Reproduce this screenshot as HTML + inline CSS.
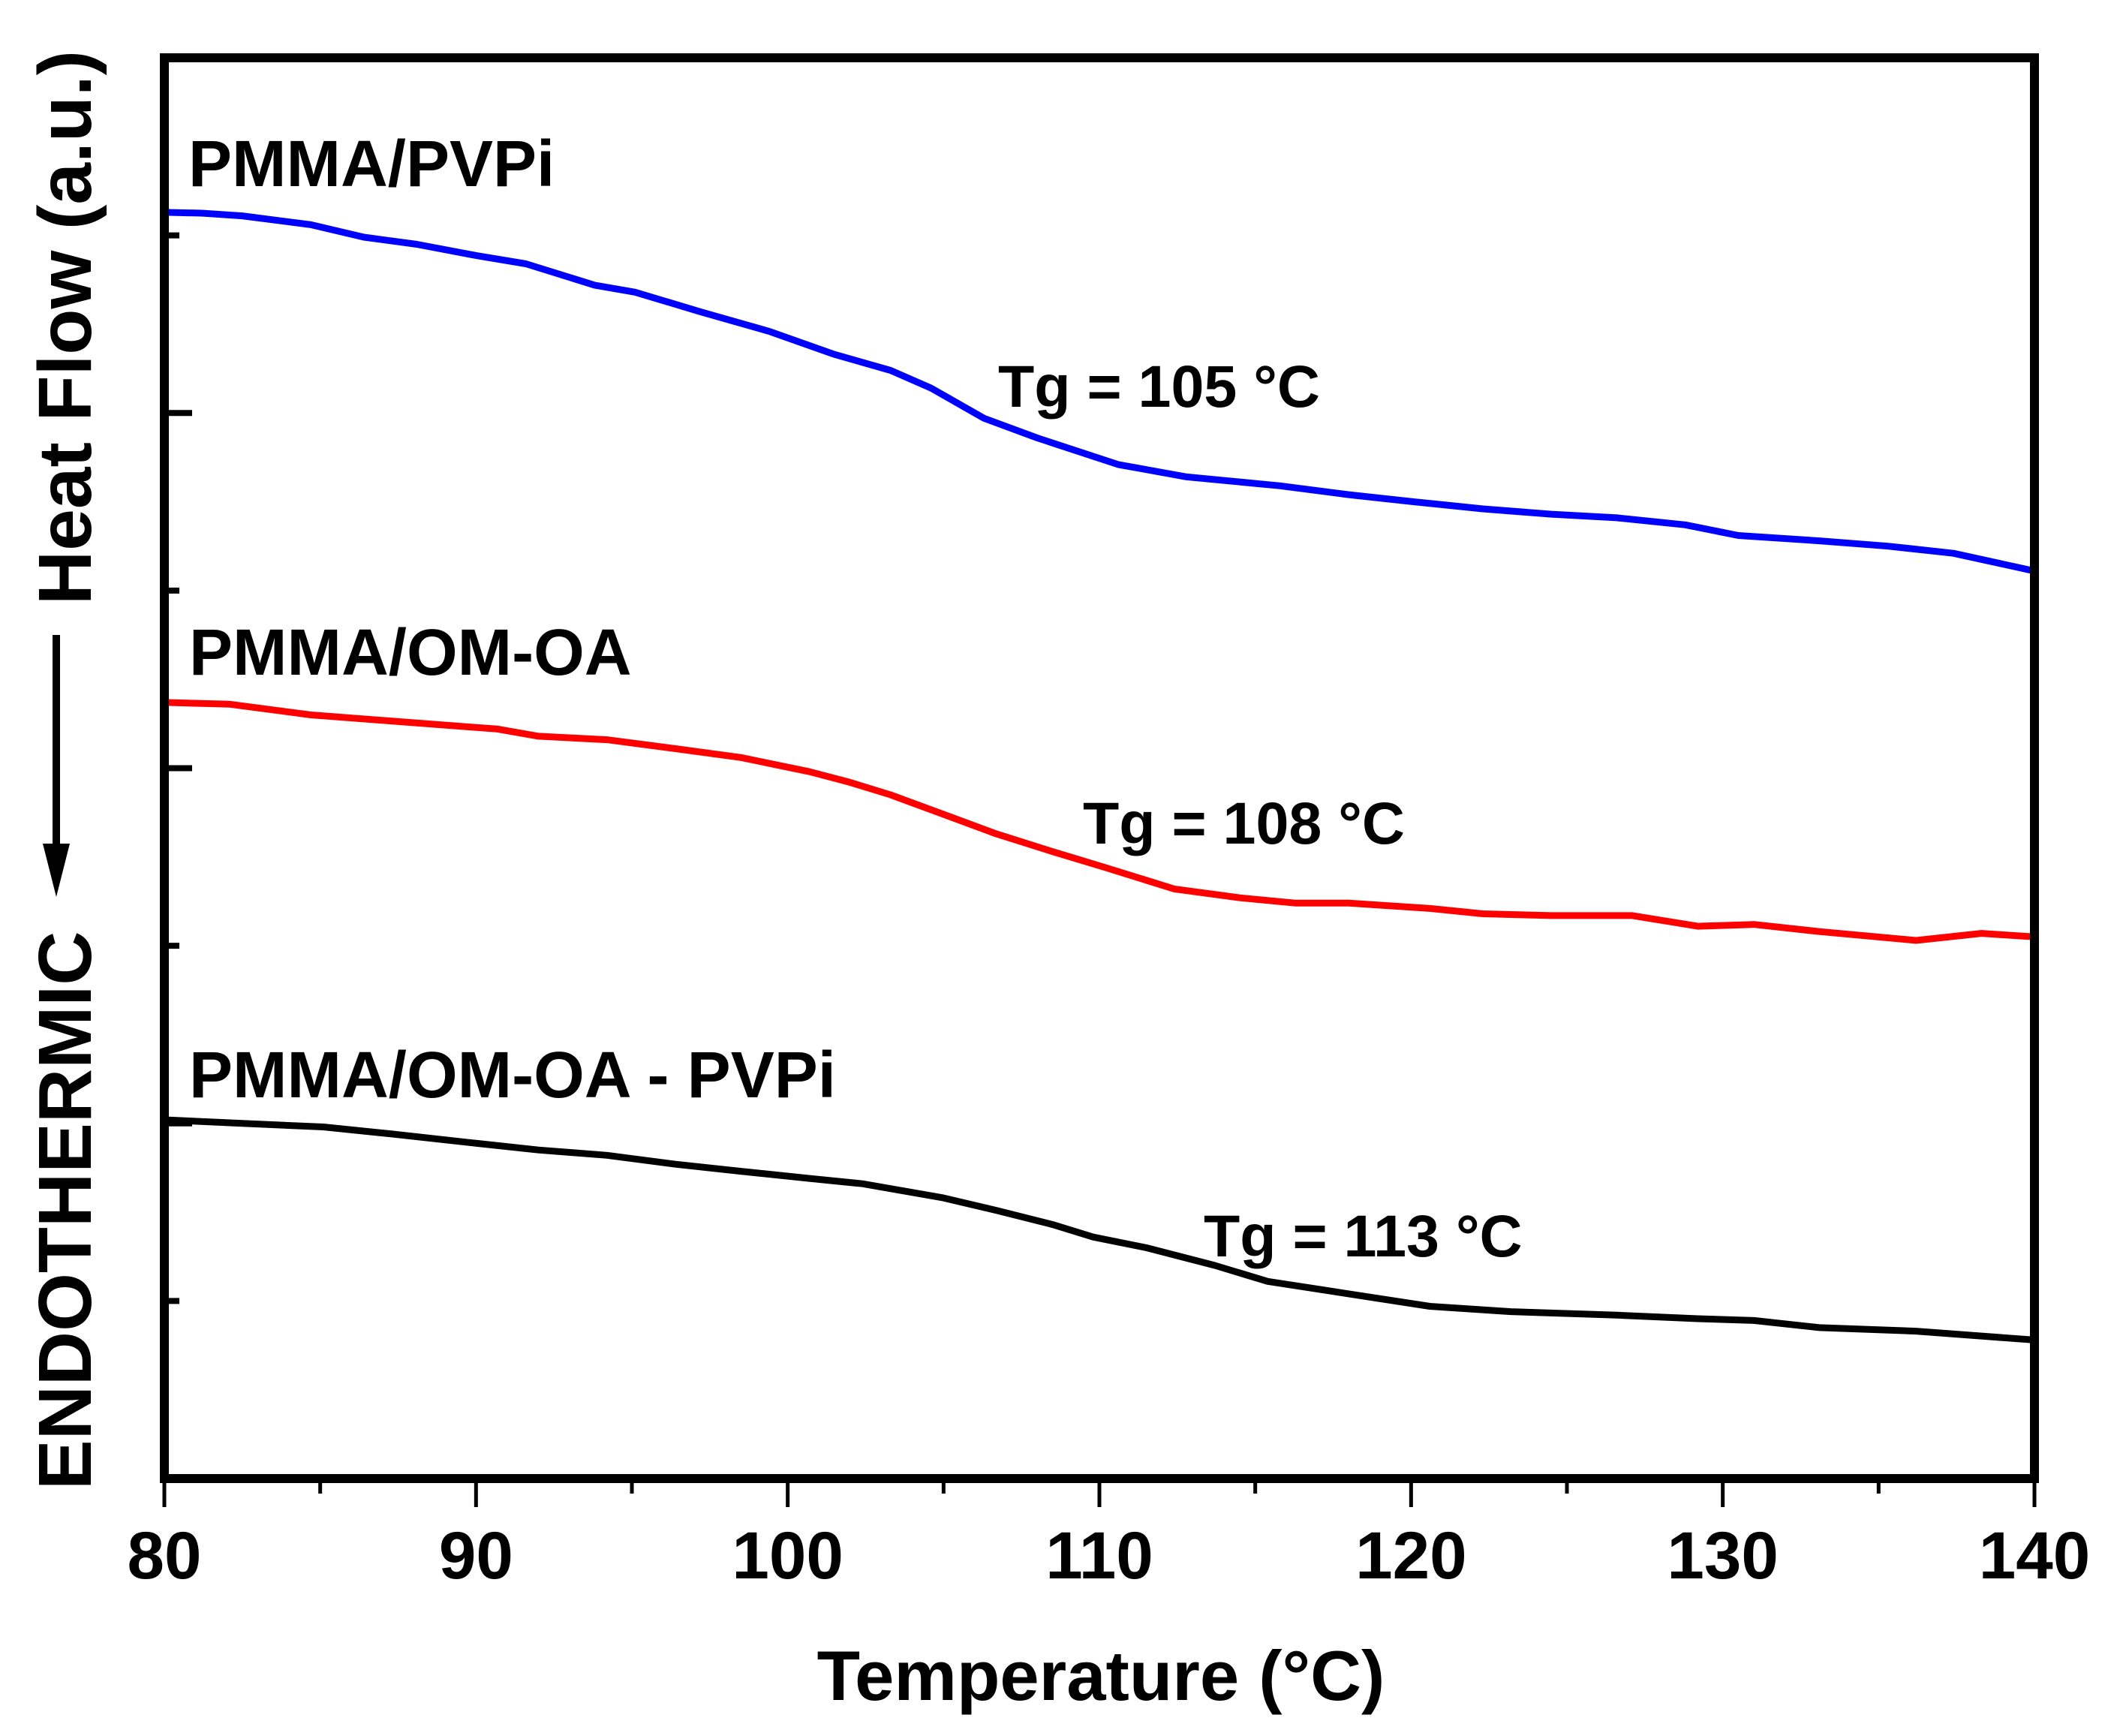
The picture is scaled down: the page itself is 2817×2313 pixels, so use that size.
<!DOCTYPE html>
<html><head><meta charset="utf-8"><style>
html,body{margin:0;padding:0;background:#fff;}
svg{display:block;font-family:"Liberation Sans",Arial,sans-serif;font-weight:bold;}
</style></head><body>
<svg id="chart" width="2817" height="2313" viewBox="0 0 2817 2313">
<g id="plot"></g>
<g id="axes"></g>
<text x="251" y="248" font-size="87">PMMA/PVPi</text>
<text x="252" y="899" font-size="87">PMMA/OM-OA</text>
<text x="252" y="1462" font-size="87">PMMA/OM-OA - PVPi</text>
<text x="1330" y="542" font-size="79">Tg = 105 °C</text>
<text x="1443" y="1124" font-size="79">Tg = 108 °C</text>
<text x="1604" y="1674" font-size="79">Tg = 113 °C</text>
<text x="1467" y="2265" font-size="94" text-anchor="middle">Temperature (°C)</text>
<text transform="translate(121,1985) rotate(-90)" font-size="100">ENDOTHERMIC</text>
<text transform="translate(121,806) rotate(-90)" font-size="100">Heat Flow (a.u.)</text>
<g>
<line x1="75" y1="846" x2="75" y2="1130" stroke="#000" stroke-width="10"/>
<polygon points="57,1124 93,1124 75,1195" fill="#000"/>
</g>
</svg>
<script>
const xTicks = [80, 90, 100, 110, 120, 130, 140];
const xMinorTicks = [85, 95, 105, 115, 125, 135];
const yMajorTicks = [2, 4, 6];
const yMinorTicks = [1, 3, 5, 7];

const blueT = [80,81.2,82.5,84.7,86.4,88.1,89.9,91.6,93.8,95.1,97.2,99.4,101.5,103.3,104.6,106.3,108.0,110.6,112.8,115.8,118.0,120.1,122.3,124.5,126.6,128.8,130.5,133.1,135.3,137.4,140];
const blueV = [7.13,7.125,7.11,7.06,6.99,6.95,6.89,6.84,6.72,6.68,6.57,6.46,6.33,6.24,6.14,5.97,5.86,5.71,5.64,5.59,5.54,5.50,5.46,5.43,5.41,5.37,5.31,5.28,5.25,5.21,5.11];
const redT = [80,82.1,84.7,87.7,90.7,92.0,94.2,96.4,98.5,100.7,102.0,103.3,105.0,106.7,108.5,110.2,112.4,114.5,116.3,118.0,120.6,122.3,124.5,127.1,129.2,131.0,133.1,136.2,138.3,140];
const redV = [4.37,4.36,4.30,4.26,4.22,4.18,4.16,4.11,4.06,3.98,3.92,3.85,3.74,3.63,3.53,3.44,3.32,3.27,3.24,3.24,3.21,3.18,3.17,3.17,3.11,3.12,3.08,3.03,3.07,3.05];
const blackT = [80,82.5,85.1,87.3,89.9,92.0,94.2,96.4,98.5,100.7,102.4,105.0,106.7,108.5,109.8,111.5,113.7,115.4,118.0,120.6,123.2,126.6,129.2,131.0,133.1,136.2,140];
const blackV = [2.02,2.00,1.98,1.94,1.89,1.85,1.82,1.77,1.73,1.69,1.66,1.58,1.51,1.43,1.36,1.30,1.20,1.11,1.04,0.97,0.94,0.92,0.90,0.89,0.85,0.83,0.78];

const X0=219, X1=2711, Y0=1970, Y1=77, XMIN=80, XMAX=140, YMIN=0, YMAX=8;
function xs(t){return X0+(t-XMIN)/(XMAX-XMIN)*(X1-X0);}
function ys(v){return Y0-(v-YMIN)/(YMAX-YMIN)*(Y0-Y1);}
const NS="http://www.w3.org/2000/svg";
const plot=document.getElementById('plot'), axes=document.getElementById('axes');
function mk(tag,attrs,parent){const e=document.createElementNS(NS,tag);for(const k in attrs)e.setAttribute(k,attrs[k]);parent.appendChild(e);return e;}

function series(T,V,color,name){
  const d=T.map((t,i)=>(i?'L':'M')+xs(t).toFixed(1)+' '+ys(V[i]).toFixed(1)).join(' ');
  const p=mk('path',{d:d,fill:'none',stroke:color,'stroke-width':9,'stroke-linejoin':'round'},plot);
  
  
}
series(blueT,blueV,'#0000ff','curve-pmma-pvpi');
series(redT,redV,'#ff0000','curve-pmma-om-oa');
series(blackT,blackV,'#000000','curve-pmma-om-oa-pvpi');

const frame=mk('rect',{x:X0,y:Y1,width:X1-X0,height:Y0-Y1,fill:'none',stroke:'#000','stroke-width':12},axes);



xTicks.forEach(t=>{
  const l=mk('line',{x1:xs(t),x2:xs(t),y1:Y0,y2:Y0+38,stroke:'#000','stroke-width':5},axes);
  
  
  const tx=mk('text',{x:xs(t),y:2103,'font-size':89,'text-anchor':'middle'},axes);
  tx.textContent=t;
  
  
});
xMinorTicks.forEach(t=>{
  const l=mk('line',{x1:xs(t),x2:xs(t),y1:Y0,y2:Y0+20,stroke:'#000','stroke-width':5},axes);
  
  
});
yMajorTicks.forEach(v=>{
  const l=mk('line',{x1:X0,x2:256,y1:ys(v),y2:ys(v),stroke:'#000','stroke-width':8},axes);
  
  
});
yMinorTicks.forEach(v=>{
  const l=mk('line',{x1:X0,x2:239,y1:ys(v),y2:ys(v),stroke:'#000','stroke-width':8},axes);
  
  
});
</script>
</body></html>
